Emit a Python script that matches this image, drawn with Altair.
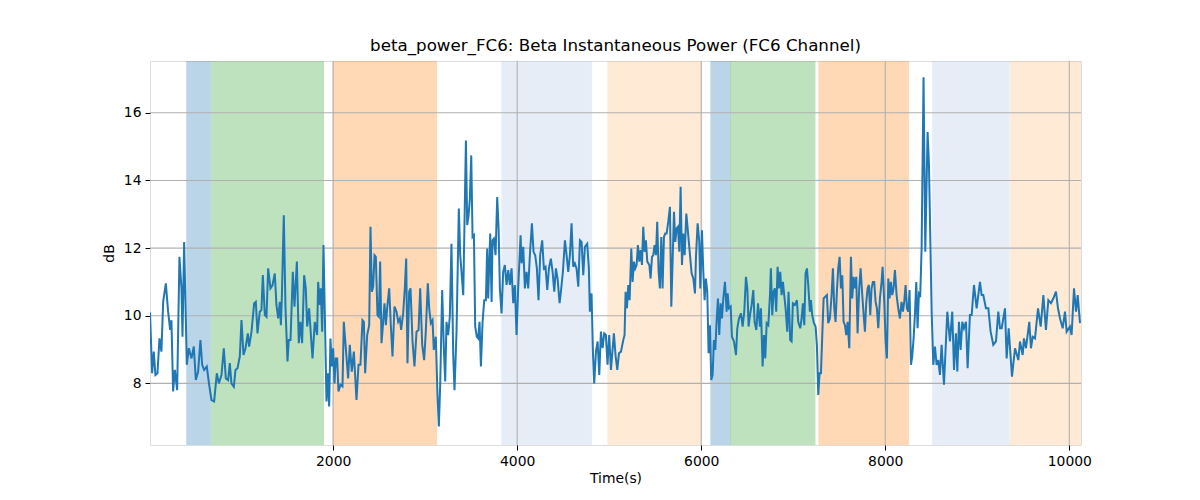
import altair as alt
import pandas as pd

# -----------------------------
# Data
# -----------------------------
TIME_S = [
    10, 33, 51, 69, 91, 113, 134, 153, 182, 207, 229, 243, 261, 280, 305, 330, 352, 363, 381,
    410, 432, 461, 486, 508, 533, 558, 577, 598, 627, 653, 678, 707, 736, 758, 787, 812, 834,
    859, 877, 895, 921, 939, 961, 986, 1004, 1026, 1048, 1073, 1087, 1113, 1142, 1160, 1178,
    1203, 1221, 1236, 1258, 1276, 1294, 1319, 1341, 1366, 1384, 1403, 1421, 1432, 1442, 1464,
    1482, 1504, 1518, 1537, 1562, 1580, 1606, 1627, 1645, 1663, 1685, 1703, 1718, 1739, 1776,
    1801, 1826, 1837, 1855, 1866, 1881, 1895, 1913, 1928, 1942, 1957, 1971, 1986, 2000, 2015,
    2029, 2044, 2058, 2080, 2102, 2116, 2138, 2163, 2181, 2203, 2225, 2254, 2276, 2297, 2319,
    2334, 2348, 2370, 2392, 2406, 2421, 2435, 2450, 2464, 2482, 2497, 2511, 2526, 2540, 2558,
    2573, 2587, 2609, 2627, 2645, 2667, 2689, 2707, 2725, 2739, 2761, 2779, 2794, 2808, 2826,
    2841, 2863, 2884, 2906, 2928, 2946, 2968, 2989, 3007, 3029, 3044, 3062, 3080, 3094, 3116,
    3134, 3149, 3163, 3185, 3203, 3218, 3232, 3250, 3268, 3286, 3305, 3319, 3341, 3366, 3381,
    3395, 3414, 3424, 3443, 3457, 3472, 3486, 3501, 3515, 3530, 3544, 3562, 3577, 3591, 3606,
    3624, 3642, 3660, 3674, 3685, 3696, 3707, 3722, 3732, 3747, 3765, 3783, 3798, 3812, 3830,
    3848, 3866, 3885, 3903, 3921, 3939, 3957, 3975, 3993, 4011, 4037, 4048, 4066, 4084, 4102,
    4120, 4138, 4160, 4178, 4196, 4214, 4232, 4250, 4272, 4290, 4308, 4327, 4345, 4366, 4385,
    4403, 4421, 4439, 4461, 4479, 4497, 4519, 4537, 4555, 4573, 4591, 4609, 4627, 4645, 4664,
    4682, 4700, 4718, 4736, 4761, 4779, 4790, 4808, 4823, 4837, 4856, 4874, 4892, 4910, 4928,
    4946, 4964, 4982, 5000, 5019, 5051, 5070, 5088, 5106, 5128, 5153, 5167, 5178, 5193, 5207,
    5222, 5240, 5254, 5269, 5283, 5298, 5312, 5327, 5341, 5356, 5370, 5385, 5399, 5414, 5436,
    5450, 5465, 5479, 5493, 5508, 5522, 5537, 5551, 5566, 5580, 5595, 5609, 5624, 5642, 5660,
    5675, 5689, 5704, 5718, 5733, 5747, 5762, 5776, 5791, 5805, 5820, 5838, 5856, 5878, 5896,
    5914, 5932, 5943, 5961, 5979, 5990, 6008, 6022, 6037, 6051, 6066, 6080, 6095, 6109, 6124,
    6138, 6153, 6167, 6182, 6196, 6211, 6225, 6240, 6258, 6276, 6287, 6301, 6320, 6334, 6356,
    6378, 6392, 6410, 6432, 6450, 6468, 6486, 6501, 6515, 6530, 6548, 6566, 6580, 6599, 6617,
    6638, 6649, 6667, 6682, 6696, 6711, 6729, 6747, 6757, 6772, 6786, 6801, 6815, 6830, 6844,
    6859, 6873, 6888, 6902, 6917, 6935, 6949, 6967, 6982, 6996, 7018, 7040, 7054, 7076, 7091,
    7105, 7120, 7134, 7149, 7163, 7181, 7192, 7206, 7225, 7243, 7257, 7272, 7286, 7301, 7315,
    7330, 7348, 7366, 7380, 7398, 7417, 7431, 7446, 7460, 7475, 7489, 7504, 7518, 7533, 7547,
    7562, 7576, 7591, 7609, 7627, 7641, 7656, 7670, 7685, 7699, 7717, 7732, 7750, 7764, 7779,
    7793, 7808, 7822, 7837, 7851, 7866, 7880, 7895, 7909, 7924, 7942, 7960, 7971, 7989, 8004,
    8018, 8033, 8047, 8061, 8076, 8090, 8105, 8123, 8141, 8159, 8177, 8192, 8206, 8221, 8235,
    8250, 8264, 8279, 8293, 8308, 8322, 8337, 8351, 8366, 8380, 8395, 8416, 8435, 8460, 8475,
    8504, 8522, 8540, 8558, 8576, 8594, 8612, 8638, 8656, 8674, 8703, 8728, 8747, 8768, 8783,
    8801, 8819, 8837, 8855, 8877, 8895, 8920, 8939, 8964, 8993, 9029, 9047, 9065, 9094, 9120,
    9145, 9174, 9203, 9228, 9247, 9265, 9301, 9319, 9341, 9377, 9410, 9446, 9464, 9493, 9507,
    9529, 9565, 9583, 9602, 9627, 9660, 9689, 9718, 9746, 9772, 9801, 9826, 9855, 9877, 9899,
    9928, 9953, 9971, 10007, 10025, 10051, 10073, 10091, 10116,
]

BETA_DB = [
    10.10, 8.30, 8.94, 8.25, 8.30, 9.33, 8.94, 10.41, 10.96, 10.12, 9.58, 9.87, 7.76, 8.40, 7.80, 11.74, 10.81, 9.38, 12.18,
    8.55, 9.04, 8.74, 9.09, 8.10, 8.35, 9.28, 8.55, 8.40, 8.50, 7.96, 7.51, 7.47, 8.30, 8.00, 8.25, 9.04, 8.15,
    8.10, 8.60, 8.00, 7.90, 8.40, 8.45, 8.80, 9.87, 8.84, 9.04, 9.48, 9.09, 9.53, 10.37, 10.41, 9.48,
    10.12, 10.17, 11.20, 10.02, 9.97, 11.40, 10.81, 10.90, 11.25, 10.32, 9.92, 10.41, 9.72, 10.46, 12.97,
    10.27, 8.65, 9.28, 9.28, 11.30, 10.27, 11.60, 9.19, 9.82, 9.19, 11.20, 10.81, 9.68, 10.22, 8.74,
    9.82, 9.43, 11.00, 10.32, 10.81, 9.53, 12.09, 9.58, 7.47, 8.30, 7.32, 9.33, 8.50, 9.04, 8.00,
    8.74, 8.74, 7.76, 7.96, 7.91, 9.82, 9.04, 8.15, 9.14, 8.35, 8.94, 7.51, 8.55, 8.55, 9.87,
    9.82, 8.30, 9.43, 9.72, 12.63, 10.71, 10.86, 11.79, 11.74, 10.02, 9.97, 11.60, 9.19, 9.68, 10.37,
    9.72, 10.22, 10.81, 9.72, 8.80, 10.27, 10.12, 9.82, 9.92, 9.58, 10.07, 10.81, 11.69, 8.60, 10.71,
    10.81, 9.24, 8.50, 9.53, 9.58, 10.81, 9.14, 8.69, 9.53, 10.96, 10.22, 9.78, 9.87, 8.99, 9.38,
    7.66, 6.73, 7.91, 10.76, 9.04, 8.06, 9.82, 9.43, 9.97, 12.13, 8.84, 7.80, 9.53, 13.17, 11.79,
    11.30, 10.61, 12.18, 15.18, 12.68, 12.97, 13.46, 14.74, 12.33, 12.38, 9.68, 9.38, 9.33, 9.82, 8.50,
    9.82, 10.46, 10.46, 11.99, 10.51, 11.50, 12.43, 10.41, 12.23, 12.28, 11.79, 13.51, 12.58, 10.81, 10.07,
    11.30, 11.50, 10.91, 11.35, 10.91, 11.40, 10.37, 10.91, 9.43, 10.81, 12.38, 11.55, 12.04, 10.81, 11.30,
    10.81, 11.79, 12.73, 11.89, 11.79, 11.40, 10.46, 11.79, 12.23, 11.40, 11.45, 10.76, 11.40, 11.69, 11.30,
    10.71, 11.40, 11.10, 10.37, 10.81, 11.30, 12.23, 11.79, 11.30, 11.79, 12.73, 11.45, 11.55, 11.40, 10.86,
    12.23, 12.18, 11.20, 12.04, 12.13, 11.40, 10.12, 10.66, 8.94, 8.00, 8.94, 9.24, 8.25, 9.53, 9.04,
    9.48, 9.43, 8.55, 9.43, 8.40, 9.48, 8.80, 8.40, 8.89, 8.94, 9.28, 9.43, 10.71, 10.22, 10.91,
    10.46, 11.99, 11.00, 11.60, 11.40, 11.50, 12.09, 11.60, 11.94, 11.50, 12.63, 11.89, 12.23, 11.60, 11.50,
    11.10, 11.74, 11.79, 12.09, 11.79, 12.78, 11.30, 10.81, 12.33, 10.81, 12.33, 12.43, 12.43, 12.78, 13.22,
    10.27, 11.60, 13.07, 12.18, 12.58, 12.63, 11.89, 13.81, 11.50, 12.43, 11.79, 13.02, 12.48, 11.79, 11.25,
    11.10, 10.66, 11.74, 12.73, 12.18, 10.81, 12.53, 11.35, 10.46, 11.10, 10.71, 8.89, 9.72, 8.10, 8.25,
    9.28, 8.99, 9.82, 10.51, 9.43, 10.37, 9.92, 10.51, 11.00, 10.12, 10.66, 10.22, 10.27, 9.38, 9.24,
    8.84, 9.63, 9.92, 10.07, 9.68, 10.12, 11.15, 10.81, 9.68, 10.02, 10.32, 10.76, 9.82, 9.58, 10.37,
    9.68, 10.22, 8.50, 9.43, 8.74, 9.78, 9.72, 10.61, 11.40, 10.02, 10.71, 10.81, 10.12, 11.45, 10.81,
    11.30, 10.61, 11.00, 10.61, 10.22, 9.53, 10.71, 9.28, 9.24, 10.37, 10.32, 10.46, 9.82, 9.63, 9.92,
    10.37, 9.72, 11.25, 11.40, 10.91, 10.12, 10.46, 10.02, 9.78, 9.68, 9.14, 7.66, 8.30, 8.30, 9.38,
    10.51, 10.56, 10.61, 9.78, 9.92, 10.61, 11.40, 10.22, 9.82, 10.76, 11.40, 11.74, 10.81, 11.20, 9.82,
    9.72, 9.43, 9.82, 9.04, 11.74, 10.51, 11.15, 10.81, 11.15, 9.48, 10.81, 11.40, 10.61, 10.07, 9.53,
    10.37, 10.81, 10.91, 10.02, 10.81, 11.00, 11.00, 10.41, 10.22, 9.63, 10.51, 11.00, 11.45, 10.41, 9.24,
    8.74, 11.10, 10.51, 11.00, 10.61, 10.81, 11.35, 10.61, 10.22, 9.92, 10.41, 10.12, 10.41, 10.91, 10.22,
    10.12, 10.76, 8.55, 8.80, 9.33, 10.02, 11.00, 9.63, 10.66, 10.61, 11.99, 17.05, 11.89, 15.43, 14.45,
    10.12, 8.55, 9.09, 8.55, 8.69, 8.25, 9.14, 7.96, 9.04, 10.12, 9.24, 10.12, 8.40, 9.48, 8.35,
    9.82, 8.99, 9.82, 9.63, 9.82, 8.45, 10.02, 10.02, 10.91, 10.22, 11.00, 10.61, 10.61, 10.22, 10.22,
    9.53, 9.14, 9.24, 10.12, 9.63, 9.63, 10.22, 8.74, 9.63, 8.20, 9.04, 8.69, 9.24, 8.84, 9.33,
    9.04, 9.82, 9.04, 9.38, 9.33, 10.22, 9.68, 10.61, 9.58, 10.46, 10.37, 10.51, 10.71, 10.22, 9.92,
    9.63, 10.12, 9.53, 9.68, 9.43, 10.81, 10.12, 10.61, 9.78,
]

# Shaded task windows (start, end, kind)
SPAN_START = [410, 678, 2000, 3834, 4986, 6105, 6320, 7279, 8515, 9363]
SPAN_END = [666, 1896, 3124, 4809, 6004, 6312, 7236, 8254, 9348, 10127]
SPAN_KIND = ["blue", "green", "orange", "lightblue", "lightorange",
             "blue", "green", "orange", "lightblue", "lightorange"]
KIND_ORDER = ["blue", "green", "orange", "lightblue", "lightorange"]
KIND_COLORS = ["#1f77b4", "#2ca02c", "#ff7f0e", "#aec7e8", "#ffbb78"]

X_TICKS = [2000, 4000, 6000, 8000, 10000]
Y_TICKS = [8, 10, 12, 14, 16]
X_DOMAIN = [10, 10127]
Y_DOMAIN = [6.18, 17.53]

FONT = "DejaVu Sans"
TICK_FONTSIZE = 13.9
TITLE_FONTSIZE = 16.7

series = pd.DataFrame({"t": TIME_S, "db": BETA_DB})
spans = pd.DataFrame({"start": SPAN_START, "end": SPAN_END, "kind": SPAN_KIND})

x_scale = alt.Scale(domain=X_DOMAIN, nice=False, zero=False)
y_scale = alt.Scale(domain=Y_DOMAIN, nice=False, zero=False)
kind_scale = alt.Scale(domain=KIND_ORDER, range=KIND_COLORS)

span_layer = (
    alt.Chart(spans)
    .mark_rect(opacity=0.3, strokeWidth=1, clip=True)
    .encode(
        x=alt.X("start:Q", scale=x_scale),
        x2="end:Q",
        color=alt.Color("kind:N", scale=kind_scale, legend=None),
        stroke=alt.Stroke("kind:N", scale=kind_scale, legend=None),
    )
)

x_grid = (
    alt.Chart(pd.DataFrame({"v": X_TICKS}))
    .mark_rule(color="#b0b0b0", strokeWidth=1.1)
    .encode(x=alt.X("v:Q", scale=x_scale))
)
y_grid = (
    alt.Chart(pd.DataFrame({"v": Y_TICKS}))
    .mark_rule(color="#b0b0b0", strokeWidth=1.1)
    .encode(y=alt.Y("v:Q", scale=y_scale))
)

axis_style = dict(
    grid=False, domain=False, tickColor="black", tickSize=5, labelPadding=4,
    labelColor="black", labelFontSize=TICK_FONTSIZE, labelFont=FONT,
    titleFont=FONT, titleFontSize=TICK_FONTSIZE, titleFontWeight="normal",
    titleColor="black",
)

line = (
    alt.Chart(series)
    .mark_line(color="#1f77b4", strokeWidth=2, clip=True)
    .encode(
        x=alt.X("t:Q", scale=x_scale, title="Time(s)",
                axis=alt.Axis(values=X_TICKS, format="d", titlePadding=4, **axis_style)),
        y=alt.Y("db:Q", scale=y_scale, title="dB",
                axis=alt.Axis(values=Y_TICKS, titlePadding=7, **axis_style)),
    )
)

chart = (
    alt.layer(span_layer, x_grid, y_grid, line)
    .properties(
        width=931,
        height=384,
        padding={"left": 142, "top": 53, "right": 111, "bottom": 47},
        autosize=alt.AutoSizeParams(type="none"),
        title=alt.TitleParams(
            text="beta_power_FC6: Beta Instantaneous Power (FC6 Channel)",
            font=FONT, fontSize=TITLE_FONTSIZE, fontWeight="normal", color="black",
            anchor="middle", offset=6,
        ),
    )
    .configure_view(stroke="black", strokeWidth=1.1)
    .configure(background="white")
)

chart.save("out.html", embed_options={"renderer": "svg", "actions": False})
